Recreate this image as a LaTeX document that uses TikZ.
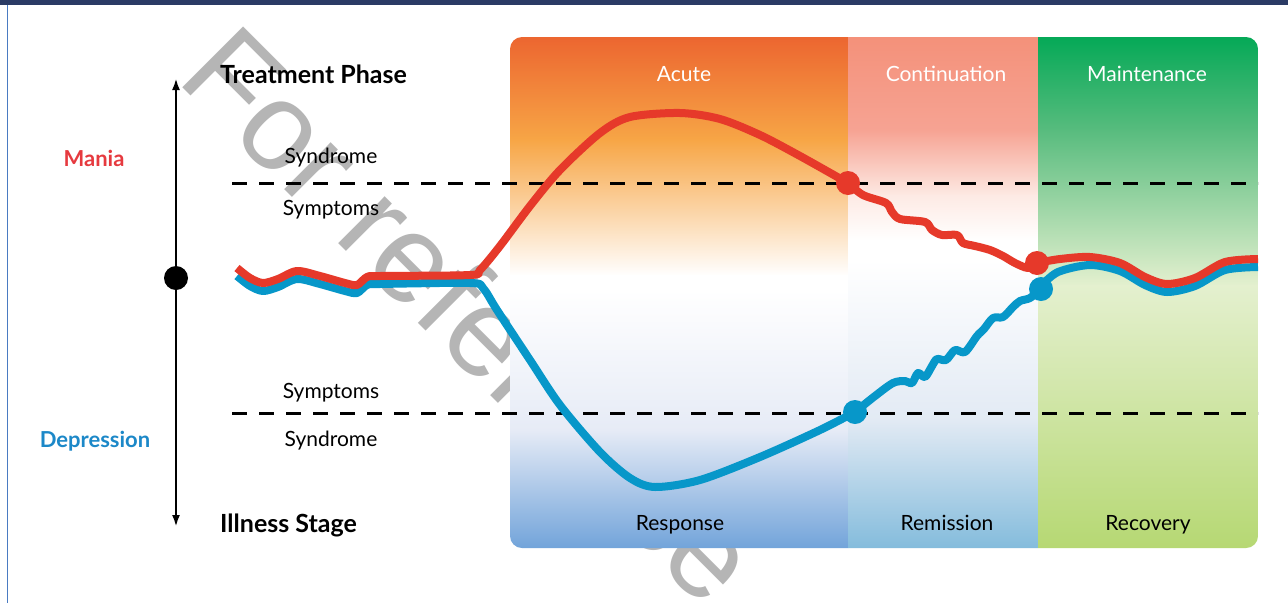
\documentclass[tikz,border=0pt]{standalone}
\usepackage{fontspec}
\setmainfont{Lato}
\newfontfamily\wmfont{Liberation Sans}
\usetikzlibrary{arrows.meta}
\definecolor{navybar}{HTML}{2B3B65}
\definecolor{frameblue}{HTML}{4A7BC2}
\definecolor{maniared}{HTML}{E6392A}
\definecolor{deprblue}{HTML}{0797C9}
\definecolor{manialbl}{HTML}{E63A3F}
\definecolor{deprlbl}{HTML}{1C88C8}
\definecolor{wmgray}{HTML}{B5B5B5}
\definecolor{acuteA}{HTML}{EC6630}
\definecolor{acuteB}{HTML}{F7A646}
\definecolor{respA}{HTML}{E6EBF6}
\definecolor{respB}{HTML}{72A4DA}
\definecolor{contA}{HTML}{F4917A}
\definecolor{contB}{HTML}{F6A393}
\definecolor{contC}{HTML}{FDEAE4}
\definecolor{remA}{HTML}{E2EAF4}
\definecolor{remB}{HTML}{84BCDC}
\definecolor{mainA}{HTML}{05A957}
\definecolor{mainB}{HTML}{58BC7E}
\definecolor{recA}{HTML}{E4F0CF}
\definecolor{recB}{HTML}{B6D873}

\begin{document}
\begin{tikzpicture}[x=1pt,y=-1pt,
  curve/.style={line width=8pt, line join=round},
  dashline/.style={black, line width=3pt, dash pattern=on 15pt off 12pt},
  head/.style={font=\fontsize{25}{25}\selectfont\bfseries, inner sep=0pt, anchor=base west},
  side/.style={font=\fontsize{22}{22}\selectfont\bfseries, inner sep=0pt, anchor=base},
  level/.style={font=\fontsize{21}{21}\selectfont, inner sep=0pt, anchor=base},
  phase/.style={white, font=\fontsize{21}{21}\selectfont, inner sep=0pt, anchor=base},
  stage/.style={black, font=\fontsize{21}{21}\selectfont, inner sep=0pt, anchor=base}]
\useasboundingbox (0,0) rectangle (1288,603);
\fill[white] (0,0) rectangle (1288,603);
\node[wmgray, rotate=-45, anchor=base west, inner sep=0pt,
  font=\wmfont\fontsize{125}{125}\selectfont] (wm) at (175,80) {For reference};
\fill[navybar] (0,0) rectangle (1288,5);
\draw[frameblue, line width=1.5pt] (7.5,5) -- (7.5,603);

\begin{scope}
\clip[rounded corners=12pt] (510,37) rectangle (1258,548);
\shade[top color=acuteA, bottom color=acuteB] (510,37) rectangle (848,141);
\shade[top color=acuteB, bottom color=white] (510,140) rectangle (848,276);
\fill[white] (510,275) rectangle (848,291);
\shade[top color=white, bottom color=respA] (510,290) rectangle (848,431);
\shade[top color=respA, bottom color=respB] (510,430) rectangle (848,548);
\shade[top color=contA, bottom color=contB] (848,37) rectangle (1038,131);
\shade[top color=contB, bottom color=contC] (848,130) rectangle (1038,196);
\shade[top color=contC, bottom color=white] (848,195) rectangle (1038,241);
\fill[white] (848,240) rectangle (1038,261);
\shade[top color=white, bottom color=remA] (848,260) rectangle (1038,421);
\shade[top color=remA, bottom color=remB] (848,420) rectangle (1038,548);
\shade[top color=mainA, bottom color=mainB] (1038,37) rectangle (1258,131);
\shade[top color=mainB, bottom color=recA] (1038,130) rectangle (1258,286);
\shade[top color=recA, bottom color=recB] (1038,285) rectangle (1258,548);
\end{scope}

\node[phase] (acute) at (684,81) {Acute};
\node[phase] (cont) at (946,81) {Continuation};
\node[phase] (maint) at (1147,81) {Maintenance};
\node[stage] (resp) at (680,530) {Response};
\node[stage] (remis) at (947,530) {Remission};
\node[stage] (recov) at (1148,530) {Recovery};

\draw[dashline] (232,183) -- (1258,183);
\draw[dashline] (232,413) -- (1258,413);

\coordinate (top) at (176,78);
\coordinate (bottom) at (176,527);
\draw[line width=2.5pt, {Latex[length=12pt,width=8pt]}-{Latex[length=12pt,width=8pt]}] (top) -- (bottom);
\fill[black] (176,278) circle (12pt);

\node[head] (treat) at (220,83) {Treatment Phase};
\node[head] (ill) at (220,532) {Illness Stage};
\node[side, manialbl] (mania) at (94,166) {Mania};
\node[side, deprlbl] (depr) at (95,447) {Depression};
\node[level] (synup) at (331,163) {Syndrome};
\node[level] (symup) at (331,215) {Symptoms};
\node[level] (symdn) at (331,398) {Symptoms};
\node[level] (syndn) at (331,446) {Syndrome};

\coordinate (m1) at (848,183);
\coordinate (m2) at (1037,263);
\coordinate (d1) at (855,412);
\coordinate (d2) at (1041,289);

\draw[curve, deprblue] plot[smooth, tension=0.5] coordinates {(237,276) (250,286) (263,291) (278,287) (297,279) (320,284) (345,291) (357,293) (367,285) (380,284) (470,283) (483,288) (497,310) (530,360) (560,405) (600,452) (630,478) (655,487) (700,480) (760,457) (820,430) (855,412)};
\draw[curve, deprblue] plot[smooth, tension=0.5] coordinates {(855,412) (875,396) (893,383) (905,381) (912,383) (918,373) (925,377) (932,366) (937,359) (946,360) (955,350) (965,352) (977,336) (984,329) (993,318) (1003,317) (1013,307) (1020,301) (1030,298) (1041,289)};
\draw[curve, deprblue] plot[smooth, tension=0.5] coordinates {(1041,286) (1058,272) (1090,265) (1120,271) (1145,285) (1167,292) (1195,286) (1225,270) (1258,267)};

\draw[curve, maniared] plot[smooth, tension=0.5] coordinates {(237,268) (250,278) (263,283) (278,279) (297,271) (320,276) (345,283) (357,285) (367,277) (380,276) (470,275) (480,270) (500,246) (530,206) (560,170) (600,133) (630,117) (680,113) (720,119) (760,135) (800,156) (848,183)};
\draw[curve, maniared] plot[smooth, tension=0.5] coordinates {(848,183) (863,195) (886,203) (892,212) (900,219) (925,222) (932,230) (942,235) (957,235) (963,243) (975,246) (990,250) (1003,256) (1015,263) (1028,268) (1037,263)};
\draw[curve, maniared] plot[smooth, tension=0.5] coordinates {(1037,263) (1060,259) (1090,257) (1120,263) (1145,277) (1167,284) (1195,278) (1225,262) (1258,259)};

\fill[maniared] (m1) circle (12pt);
\fill[maniared] (m2) circle (12pt);
\fill[deprblue] (d1) circle (12pt);
\fill[deprblue] (d2) circle (12pt);
\end{tikzpicture}
\end{document}
